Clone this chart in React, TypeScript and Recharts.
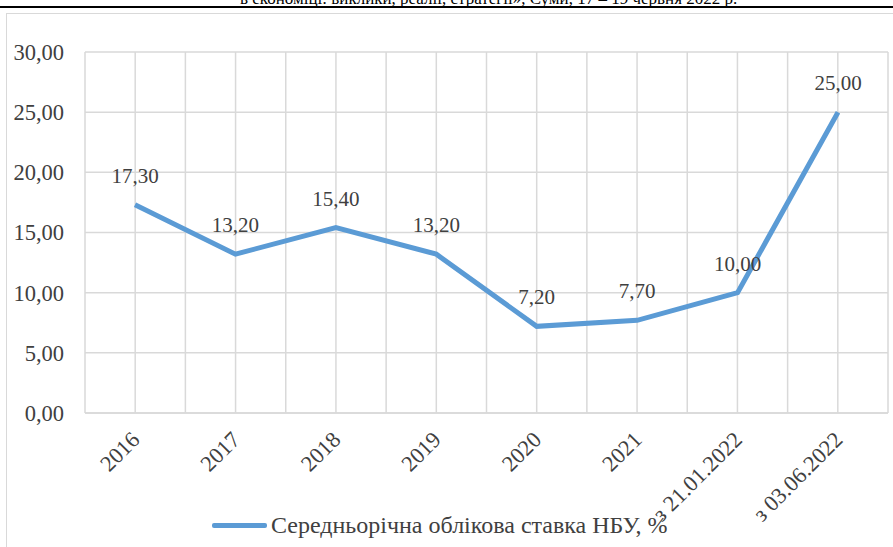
import { LineChart, Line, XAxis, YAxis, CartesianGrid, LabelList } from 'recharts'

const categories = ['2016', '2017', '2018', '2019', '2020', '2021', 'з 21.01.2022', 'з 03.06.2022']
const rates = [17.3, 13.2, 15.4, 13.2, 7.2, 7.7, 10.0, 25.0]
const yTicks = [0, 5, 10, 15, 20, 25, 30]
const seriesName = 'Середньорічна облікова ставка НБУ, %'
const headerText = 'в економіці: виклики, реалії, стратегії», Суми, 17 – 19 червня 2022 р.'

const data = categories.map((name, i) => ({ name, value: rates[i] }))

const FONT = "'Liberation Serif', 'Times New Roman', serif"
const TEXT = '#404040'
const BLUE = '#5B9BD5'
const GRID = '#d9d9d9'

const fmt = (v: number) => v.toFixed(2).replace('.', ',')

const XTick = (props: any) => {
  const { x, y, payload } = props
  const tx = x + 6
  const ty = y + 20
  return (
    <text
      x={tx}
      y={ty}
      textAnchor="end"
      transform={`rotate(-45, ${tx}, ${ty})`}
      fill={TEXT}
      fontSize={22.5}
      style={{ fontFamily: FONT }}
    >
      {payload.value}
    </text>
  )
}

const YTick = (props: any) => {
  const { y, payload } = props
  return (
    <text x={64} y={y} dy="0.35em" textAnchor="end" fill={TEXT} fontSize={22.5} style={{ fontFamily: FONT }}>
      {fmt(payload.value)}
    </text>
  )
}

const PointLabel = (props: any) => {
  const { x, y, value } = props
  return (
    <text x={x} y={y - 22} textAnchor="middle" fill={TEXT} fontSize={21} style={{ fontFamily: FONT }}>
      {fmt(value)}
    </text>
  )
}

export default function App() {
  return (
    <div style={{ position: 'absolute', left: 0, top: 0, width: 893, height: 547, overflow: 'hidden', background: '#fff', fontFamily: FONT }}>
      <div
        style={{
          position: 'absolute',
          left: 240,
          top: -10,
          fontSize: 17,
          lineHeight: '17px',
          whiteSpace: 'nowrap',
          color: '#000',
        }}
      >
        {headerText}
      </div>
      <div style={{ position: 'absolute', left: 0, top: 6, width: 893, height: 1.5, background: '#000' }} />
      <div style={{ position: 'absolute', left: 6, top: 13, width: 900, height: 560, border: `1.5px solid ${GRID}` }} />
      <div style={{ position: 'absolute', left: 0, top: 0 }}>
        <LineChart width={893} height={547} data={data} margin={{ top: 52, right: 5, bottom: 34, left: 0 }}>
          <CartesianGrid
            stroke={GRID}
            strokeWidth={1.5}
            verticalCoordinatesGenerator={({ offset }: any) =>
              Array.from({ length: categories.length * 2 + 1 }, (_, i) => offset.left + (i * offset.width) / (categories.length * 2))
            }
          />
          <XAxis
            dataKey="name"
            height={100}
            padding={{ left: 50, right: 50 }}
            axisLine={{ stroke: GRID, strokeWidth: 1.5 }}
            tickLine={false}
            interval={0}
            tick={<XTick />}
          />
          <YAxis
            domain={[0, 30]}
            ticks={yTicks}
            width={85}
            axisLine={false}
            tickLine={false}
            tick={<YTick />}
          />
          <Line
            type="linear"
            dataKey="value"
            name={seriesName}
            stroke={BLUE}
            strokeWidth={5}
            dot={false}
            isAnimationActive={false}
          >
            <LabelList dataKey="value" content={<PointLabel />} />
          </Line>
        </LineChart>
      </div>
      <div
        style={{
          position: 'absolute',
          left: 212,
          top: 510,
          display: 'flex',
          alignItems: 'center',
          fontSize: 24,
          lineHeight: '30px',
          color: TEXT,
          whiteSpace: 'nowrap',
        }}
      >
        <span style={{ display: 'inline-block', width: 55, height: 5, background: BLUE, marginRight: 4, borderRadius: 2 }} />
        <span>{seriesName}</span>
      </div>
    </div>
  )
}
